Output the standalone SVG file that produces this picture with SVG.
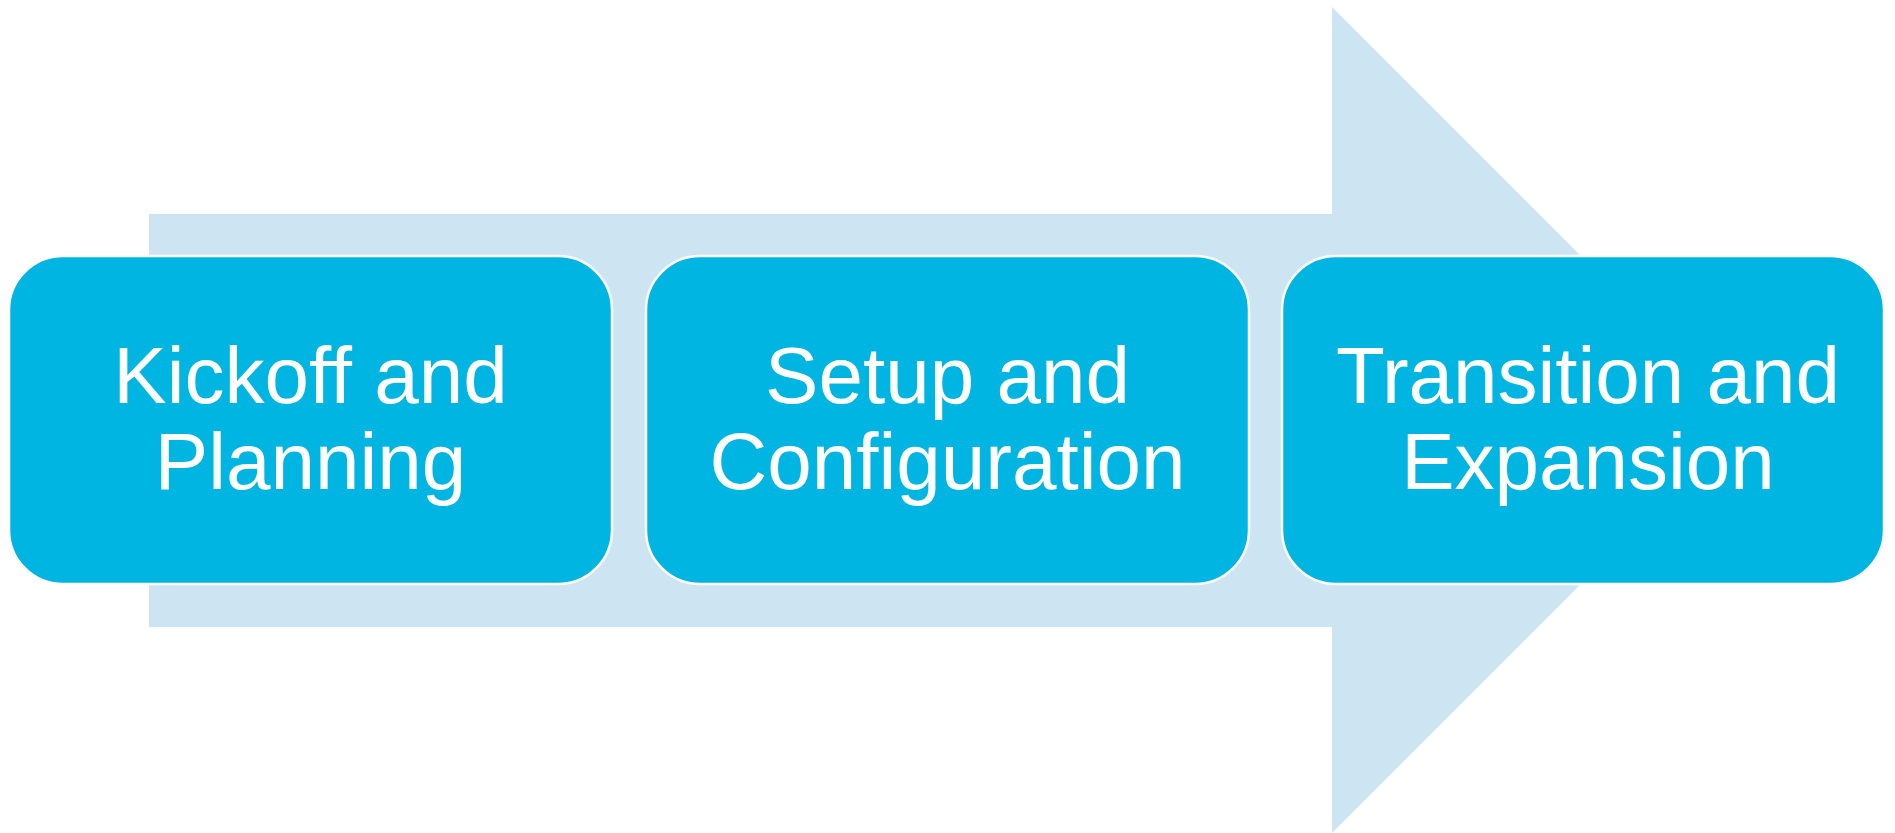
<svg xmlns="http://www.w3.org/2000/svg" width="1895" height="833" viewBox="0 0 1895 833">
<style>
.box{fill:#00B5E2;stroke:#FFFFFF;stroke-width:2.5}
.lbl{font-family:"Liberation Sans",Arial,sans-serif;font-size:80px;fill:#FFFFFF;text-anchor:middle}
</style>
<rect width="1895" height="833" fill="#FFFFFF"/>
<g id="arrow">
<polygon points="149,214 1332,214 1332,7 1745,420 1332,833 1332,627 149,627" fill="#CDE4F3"/>
</g>
<g id="connectors"></g>
<g id="node1">
<rect class="box" x="9" y="256" width="603" height="328" rx="54" ry="54"/>
<text class="lbl" x="310.5" y="403">Kickoff and</text>
<text class="lbl" x="310.5" y="489">Planning</text>
</g>
<g id="node2">
<rect class="box" x="646" y="256" width="603" height="328" rx="54" ry="54"/>
<text class="lbl" x="947.5" y="403">Setup and</text>
<text class="lbl" x="947.5" y="489">Configuration</text>
</g>
<g id="node3">
<rect class="box" x="1282" y="256" width="602" height="328" rx="54" ry="54"/>
<text class="lbl" x="1588" y="403">Transition and</text>
<text class="lbl" x="1588" y="489">Expansion</text>
</g>
</svg>
